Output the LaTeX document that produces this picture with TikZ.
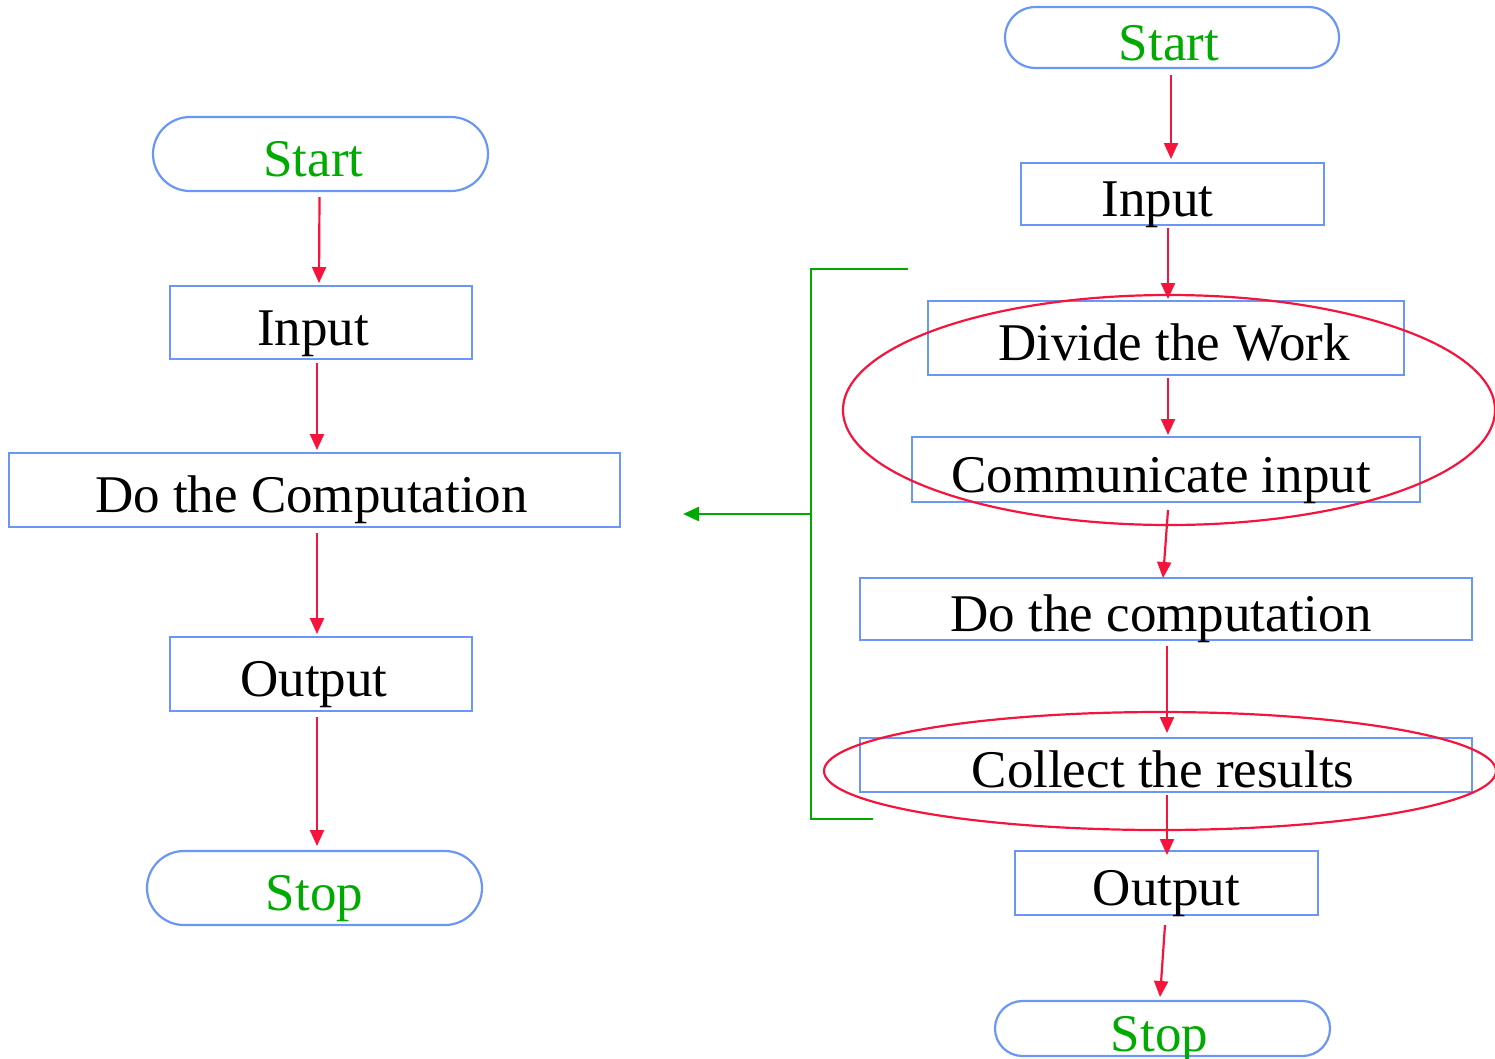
\documentclass[tikz,border=0pt]{standalone}
\usepackage{fontspec}
\setmainfont{Liberation Serif}
\usetikzlibrary{arrows.meta,calc}
\definecolor{boxblue}{HTML}{6A96F8}
\definecolor{arrred}{HTML}{F5143C}
\definecolor{grn}{HTML}{00AA00}
\begin{document}
\begin{tikzpicture}[x=1pt,y=-1pt,
  base/.style={draw=boxblue,line width=2.2pt,inner sep=0pt,outer sep=0pt,
    font=\fontsize{53}{60}\selectfont,text height=45pt,text depth=0pt},
  procbox/.style={base,rectangle},
  termbox/.style={base,rectangle,text=grn},
  arr/.style={draw=arrred,line width=2.2pt,-{Triangle[length=16pt,width=14pt]}},
  ring/.style={draw=arrred,line width=2.2pt},
  brk/.style={draw=grn,line width=2.5pt},
  garr/.style={draw=grn,line width=2.5pt,-{Triangle[length=16pt,width=14pt]}}]
\useasboundingbox (0,0) rectangle (1495,1058);
% left column
\node[termbox,minimum width=335pt,minimum height=74pt,rounded corners=37pt] (lstart) at (320.5,154) {Start\hspace*{14pt}};
\node[procbox,minimum width=302pt,minimum height=73pt] (linput) at (321,322.5) {Input\hspace*{16pt}};
\node[procbox,minimum width=611pt,minimum height=74pt] (lcomp) at (314.5,490) {Do the Computation\hspace*{6pt}};
\node[procbox,minimum width=302pt,minimum height=74pt] (loutput) at (321,674) {Output\hspace*{14pt}};
\node[termbox,minimum width=335pt,minimum height=74pt,rounded corners=37pt] (lstop) at (314.5,888) {Stop};
\draw[arr] ($(lstart.south)+(-1,6)$) -- ($(linput.north)+(-2,-3)$);
\draw[arr] ($(linput.south)+(-4,4)$) -- ($(lcomp.north)+(2.5,-3)$);
\draw[arr] ($(lcomp.south)+(2.5,6)$) -- ($(loutput.north)+(-4,-3)$);
\draw[arr] ($(loutput.south)+(-4,6)$) -- ($(lstop.north)+(2.5,-5)$);
% right column
\node[termbox,minimum width=334pt,minimum height=61pt,rounded corners=30.5pt] (rstart) at (1172,37.5) {Start\hspace*{6pt}};
\node[procbox,minimum width=303pt,minimum height=62pt] (rinput) at (1172.5,194) {Input\hspace*{30pt}};
\node[procbox,minimum width=476pt,minimum height=74pt] (rdivide) at (1166,338) {\hspace*{16pt}Divide the Work};
\node[procbox,minimum width=508pt,minimum height=65pt] (rcomm) at (1166,469.5) {Communicate input\hspace*{10pt}};
\node[procbox,minimum width=612pt,minimum height=62pt] (rcomp) at (1166,609) {Do the computation\hspace*{10pt}};
\node[procbox,minimum width=612pt,minimum height=54pt] (rcollect) at (1166,765) {Collect the results\hspace*{6pt}};
\node[procbox,minimum width=303pt,minimum height=64pt] (routput) at (1166.5,883) {Output};
\node[termbox,minimum width=335pt,minimum height=55pt,rounded corners=27.5pt] (rstop) at (1162.5,1028.5) {Stop\hspace*{6pt}};
\draw[arr] ($(rstart.south)+(-1,7)$) -- ($(rinput.north)+(-1.5,-4)$);
\draw[arr] ($(rinput.south)+(-4.5,3)$) -- ($(rdivide.north)+(2,-2)$);
\draw[arr] ($(rdivide.south)+(2,3)$) -- ($(rcomm.north)+(2,-2)$);
\draw[arr] ($(rcomm.south)+(2,8)$) -- ($(rcomp.north)+(-3,0)$);
\draw[arr] ($(rcomp.south)+(1,6)$) -- ($(rcollect.north)+(1,-5)$);
\draw[arr] ($(rcollect.south)+(1,3)$) -- ($(routput.north)+(0.5,4)$);
\draw[arr] ($(routput.south)+(-1.5,10)$) -- ($(rstop.north)+(-2.5,-4)$);
% highlight ellipses
\draw[ring] (1169,410) ellipse [x radius=326, y radius=115];
\draw[ring] (1160,771) ellipse [x radius=336, y radius=59];
% green bracket
\coordinate (btop) at (908,269);
\coordinate (btl) at (811,269);
\coordinate (bbl) at (811,819);
\coordinate (bbot) at (873,819);
\coordinate (bmid) at (811,514);
\coordinate (gtip) at (683,514);
\draw[brk] (btop) -- (btl) -- (bbl) -- (bbot);
\draw[garr] (bmid) -- (gtip);
\end{tikzpicture}
\end{document}
